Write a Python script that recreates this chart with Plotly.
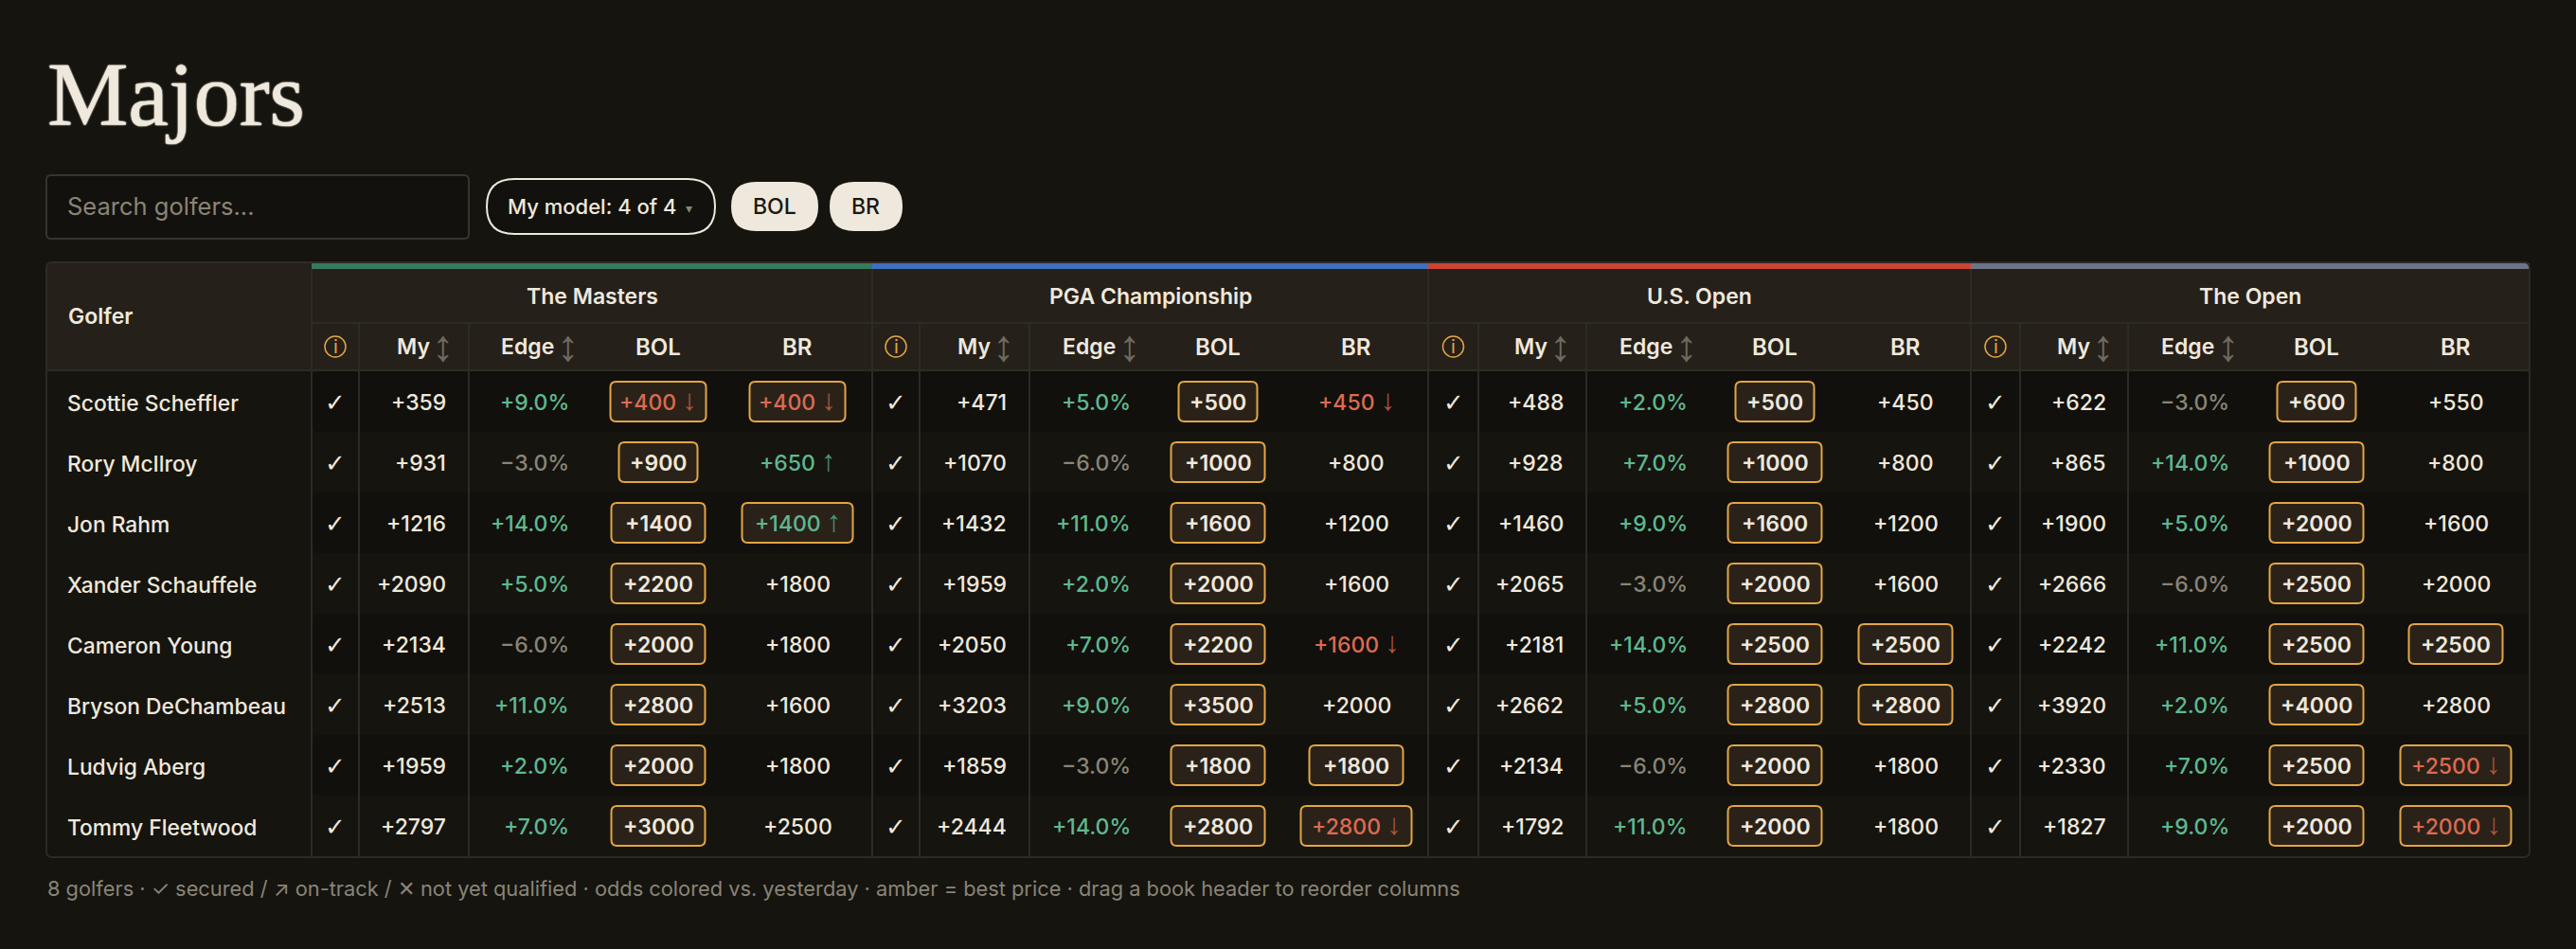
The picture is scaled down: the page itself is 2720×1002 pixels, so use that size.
"""Majors odds board."""

import plotly.graph_objects as go

golfers = ["Scottie Scheffler", "Rory McIlroy", "Jon Rahm", "Xander Schauffele",
           "Cameron Young", "Bryson DeChambeau", "Ludvig Aberg", "Tommy Fleetwood"]
majors = ["The Masters", "PGA Championship", "U.S. Open", "The Open"]

# model odds, edge %, book odds per major
my_odds = [
    [359, 931, 1216, 2090, 2134, 2513, 1959, 2797],
    [471, 1070, 1432, 1959, 2050, 3203, 1859, 2444],
    [488, 928, 1460, 2065, 2181, 2662, 2134, 1792],
    [622, 865, 1900, 2666, 2242, 3920, 2330, 1827],
]
edge = [
    [9, -3, 14, 5, -6, 11, 2, 7],
    [5, -6, 11, 2, 7, 9, -3, 14],
    [2, 7, 9, -3, 14, 5, -6, 11],
    [-3, 14, 5, -6, 11, 2, 7, 9],
]
bol = [
    [400, 900, 1400, 2200, 2000, 2800, 2000, 3000],
    [500, 1000, 1600, 2000, 2200, 3500, 1800, 2800],
    [500, 1000, 1600, 2000, 2500, 2800, 2000, 2000],
    [600, 1000, 2000, 2500, 2500, 4000, 2500, 2000],
]
br = [
    [400, 650, 1400, 1800, 1800, 1600, 1800, 2500],
    [450, 800, 1200, 1600, 1600, 2000, 1800, 2800],
    [450, 800, 1200, 1600, 2500, 2800, 1800, 1800],
    [550, 800, 1600, 2000, 2500, 2800, 2500, 2000],
]
# 1 = up vs yesterday, -1 = down
bol_trend = [
    [-1, 0, 0, 0, 0, 0, 0, 0],
    [0, 0, 0, 0, 0, 0, 0, 0],
    [0, 0, 0, 0, 0, 0, 0, 0],
    [0, 0, 0, 0, 0, 0, 0, 0],
]
br_trend = [
    [-1, 1, 1, 0, 0, 0, 0, 0],
    [-1, 0, 0, 0, -1, 0, 0, -1],
    [0, 0, 0, 0, 0, 0, 0, 0],
    [0, 0, 0, 0, 0, 0, -1, -1],
]
# amber box = best price
br_best = [
    [1, 0, 1, 0, 0, 0, 0, 0],
    [0, 0, 0, 0, 0, 0, 1, 1],
    [0, 0, 0, 0, 1, 1, 0, 0],
    [0, 0, 0, 0, 1, 0, 1, 1],
]

footer = ("8 golfers · ✓ secured / ↗ on-track / ✕ not yet qualified · odds colored vs. yesterday"
          " · amber = best price · drag a book header to reorder columns")

# layout, pixels
W, H = 2720, 1002
LEFT, RIGHT, TOP, BOTTOM = 49, 2671, 277, 905
GOLFER_END = 329
GROUP_EDGES = [329, 921, 1508, 2081, 2671]
CHECK_END = [379, 971, 1561, 2133]
MY_END = [495, 1087, 1675, 2247]
MY_RIGHT = [473, 1065, 1653, 2226]
EDGE_RIGHT = [603, 1196, 1784, 2356]
BOL_X = [695, 1286, 1874, 2446]
BR_X = [842, 1432, 2012, 2593]
ACCENTS = ["#357a5b", "#3f6fbf", "#cc4433", "#6e7488"]
ROW_Y0, ROW_H = 424, 64

BG = "#15140f"
HEAD = "#25201a"
LINE = "#2e2a24"
CREAM = "#efe8dc"
GREEN = "#5fb88f"
RED = "#dc6b52"
GREY = "#8a8477"
AMBER = "#e2a545"
FONT = "Inter"
ARROW_FONT = "Liberation Sans"

shapes = []
notes = []


def rrect(x0, y0, x1, y1, r):
    return (f"M{x0+r},{y0} L{x1-r},{y0} Q{x1},{y0} {x1},{y0+r} L{x1},{y1-r} Q{x1},{y1} {x1-r},{y1} "
            f"L{x0+r},{y1} Q{x0},{y1} {x0},{y1-r} L{x0},{y0+r} Q{x0},{y0} {x0+r},{y0} Z")


def box(x0, y0, x1, y1, fill=None, line=None, width=0, r=0):
    shapes.append(dict(type="path", path=rrect(x0, y0, x1, y1, r), fillcolor=fill or "rgba(0,0,0,0)",
                       line=dict(color=line or "rgba(0,0,0,0)", width=width), layer="below"))


def rule(x0, y0, x1, y1, color=LINE, width=2):
    shapes.append(dict(type="line", x0=x0, y0=y0, x1=x1, y1=y1, line=dict(color=color, width=width), layer="below"))


def label(x, y, text, size=23, color=CREAM, anchor="center", weight=450, family=FONT, shadow=None):
    font = dict(size=size, color=color, family=family, weight=weight)
    if shadow:
        font["shadow"] = shadow
    notes.append(dict(x=x, y=y + 1, text=text, showarrow=False, xanchor=anchor, yanchor="middle", font=font))


def odds_text(value, trend):
    # arrow sits a shade darker than the number, drawn tall and thin
    text = f"+{value}"
    style = f"font-family:{ARROW_FONT};font-size:31px;font-weight:400"
    if trend < 0:
        text += f" <span style='color:#a8563f;{style}'>↓</span>"
    elif trend > 0:
        text += f" <span style='color:#4b9173;{style}'>↑</span>"
    return text


def odds_cell(x, y, value, trend, best):
    color = RED if trend < 0 else GREEN if trend > 0 else CREAM
    if best:
        w = 16 * len(str(value)) + 35 + (18 if trend else 0)
        box(x - w / 2, y - 21, x + w / 2, y + 21, fill="#2a2219", line=AMBER, width=2, r=6)
    # the tall arrow span pushes the line down a little
    label(x, y - 3 if trend else y, odds_text(value, trend), color=color, weight=600 if best and not trend else 450)


# title + controls
label(48, 98, "Majors", size=96, anchor="left", family="Liberation Serif", weight=400,
      shadow="0 0 1.5px #efe8dc, 0 0 1.5px #efe8dc, 0 0 1.5px #efe8dc")
box(49, 185, 495, 252, fill="#12110d", line="#38342c", width=2, r=5)
label(69, 216, "Search golfers...", size=25.5, color=GREY, anchor="left", weight=400)
box(514, 189, 755, 247, fill="#12110d", line=CREAM, width=2, r=29)
label(534, 217, "My model: 4 of 4", size=22, anchor="left", weight=500)
label(727, 218, "▾", size=14, color=GREY)
box(772, 192, 864, 244, fill=CREAM, r=26)
label(818, 217, "BOL", size=23, color="#1a1813", weight=500)
box(876, 192, 953, 244, fill=CREAM, r=26)
label(914, 217, "BR", size=23, color="#1a1813", weight=500)

# table frame and header band
box(LEFT, TOP, RIGHT, BOTTOM, fill=BG, r=6)
box(LEFT, TOP, RIGHT, 391, fill=HEAD, r=6)
shapes.append(dict(type="rect", x0=LEFT, x1=RIGHT, y0=380, y1=391, fillcolor=HEAD, line=dict(width=0), layer="below"))

# alternating row band, right of the golfer column
for i in range(0, len(golfers), 2):
    y = ROW_Y0 + i * ROW_H
    box(GOLFER_END + 1, y - ROW_H / 2, RIGHT - 1, y + ROW_H / 2, fill="#11100c", r=6)

for i, name in enumerate(majors):
    x0, x1 = GROUP_EDGES[i], GROUP_EDGES[i + 1]
    shapes.append(dict(type="rect", x0=x0, x1=x1, y0=278, y1=284, fillcolor=ACCENTS[i], line=dict(width=0), layer="below"))
    label((x0 + x1) / 2, 312, name, size=23, weight=600)
    rule(x0, 284, x0, BOTTOM)
    rule(CHECK_END[i], 341, CHECK_END[i], BOTTOM)
    rule(MY_END[i], 341, MY_END[i], BOTTOM)

    cx = (x0 + CHECK_END[i]) / 2
    shapes.append(dict(type="circle", x0=cx - 11, x1=cx + 11, y0=355, y1=377, line=dict(color=AMBER, width=1.5),
                       fillcolor="rgba(0,0,0,0)", layer="below"))
    label(cx, 365, "i", size=20, color=AMBER, weight=400)
    label(MY_RIGHT[i] - 17, 365, "My", anchor="right", weight=600)
    label(MY_RIGHT[i] - 6, 364, "↕", size=46, color="#6f6a5e", family=ARROW_FONT, weight=400)
    label(EDGE_RIGHT[i] - 16, 365, "Edge", anchor="right", weight=600)
    label(EDGE_RIGHT[i] - 4, 364, "↕", size=46, color="#6f6a5e", family=ARROW_FONT, weight=400)
    label(BOL_X[i], 365, "BOL", size=24, weight=600)
    label(BR_X[i], 365, "BR", size=24, weight=600)

    for r in range(len(golfers)):
        y = ROW_Y0 + r * ROW_H
        label(cx, y, "✓", size=26, family="DejaVu Sans", weight=400)
        label(MY_RIGHT[i], y, f"+{my_odds[i][r]}", anchor="right")
        e = edge[i][r]
        label(EDGE_RIGHT[i], y, f"{'+' if e > 0 else '−'}{abs(e)}.0%", color=GREEN if e > 0 else GREY, anchor="right")
        odds_cell(BOL_X[i], y, bol[i][r], bol_trend[i][r], True)
        odds_cell(BR_X[i], y, br[i][r], br_trend[i][r], br_best[i][r])

rule(LEFT, 391, RIGHT, 391)
rule(GOLFER_END, 341, RIGHT, 341)
box(LEFT, TOP, RIGHT, BOTTOM, line=LINE, width=2, r=6)

label(70, 333, "Golfer", anchor="left", weight=600)
for r, name in enumerate(golfers):
    label(69, ROW_Y0 + r * ROW_H, name, size=22.8, anchor="left", weight=500)
label(48, 937, footer, size=21.8, color=GREY, anchor="left", weight=400)

fig = go.Figure()
fig.update_layout(
    width=W, height=H, margin=dict(l=0, r=0, t=0, b=0),
    paper_bgcolor=BG, plot_bgcolor=BG, showlegend=False,
    xaxis=dict(range=[0, W], visible=False, fixedrange=True),
    yaxis=dict(range=[H, 0], visible=False, fixedrange=True),
    shapes=shapes, annotations=notes,
)
fig.write_html("out.html", config=dict(displayModeBar=False),
               post_script="document.body.style.margin='0';document.body.style.overflow='hidden';")
